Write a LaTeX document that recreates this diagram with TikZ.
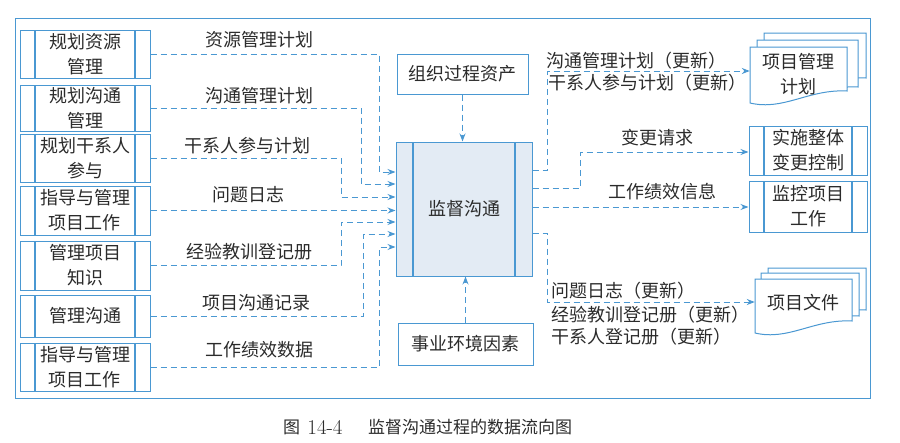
\documentclass[tikz,border=0pt]{standalone}
\usepackage{fontspec}
\newfontfamily\cjk{Noto Sans CJK SC}
\usetikzlibrary{arrows.meta,calc}
\definecolor{ln}{HTML}{4A98D2}
\definecolor{tx}{HTML}{2B2B2B}
\definecolor{cf}{HTML}{E3EBF4}
\tikzset{
  box/.style={draw=ln, line width=1pt, fill=white, inner sep=0pt, align=center,
    font=\cjk\fontsize{18}{25}\selectfont, text=tx},
  proc/.style={box, path picture={
    \draw[ln, line width=1.2pt]
      ([xshift=#1]path picture bounding box.north west) -- ([xshift=#1]path picture bounding box.south west)
      ([xshift=-#1]path picture bounding box.north east) -- ([xshift=-#1]path picture bounding box.south east);}},
  proc/.default=15pt,
  flow/.style={draw=ln, line width=1pt, dash pattern=on 6pt off 4pt,
    -{Stealth[length=8pt,width=6pt]}},
  lbl/.style={font=\cjk\fontsize{18}{25}\selectfont, text=tx, inner sep=0pt},
  doc/.style={draw=ln, line width=1pt, fill=white},
}
\newcommand\docpath[4]{%
  \path[doc] (#1,#2) -- ({#1+#3},#2) -- ({#1+#3},{#2+#4-12})
    .. controls ({#1+0.6*#3},{#2+#4-14}) and ({#1+0.35*#3},{#2+#4+8}) .. (#1,{#2+#4}) -- cycle;}
\begin{document}
\begin{tikzpicture}[x=1pt,y=-1pt]
\useasboundingbox (0,0) rectangle (900,442);
% outer frame
\draw[ln, line width=0.9pt] (15,18) rectangle (870,398);

% left process boxes
\node[proc, minimum width=130pt, minimum height=48pt] (b1) at (85,54) {规划资源\\管理};
\node[proc, minimum width=130pt, minimum height=46pt] (b2) at (85,108) {规划沟通\\管理};
\node[proc, minimum width=130pt, minimum height=48pt] (b3) at (85,158) {规划干系人\\参与};
\node[proc, minimum width=130pt, minimum height=49pt] (b4) at (85,210.5) {指导与管理\\项目工作};
\node[proc, minimum width=130pt, minimum height=49pt] (b5) at (85,265.5) {管理项目\\知识};
\node[proc, minimum width=130pt, minimum height=42pt] (b6) at (85,316) {管理沟通};
\node[proc, minimum width=130pt, minimum height=48pt] (b7) at (85,367) {指导与管理\\项目工作};

% centre
\node[proc=17pt, fill=cf, minimum width=136pt, minimum height=134pt] (ctr) at (464,209) {监督沟通};
\node[box, minimum width=131pt, minimum height=40pt] (opa) at (462.5,74) {组织过程资产};
\node[box, minimum width=135pt, minimum height=42pt] (eef) at (465.5,344) {事业环境因素};

% right process boxes
\node[proc, minimum width=118pt, minimum height=49pt] (sz) at (808,150.5) {实施整体\\变更控制};
\node[proc, minimum width=118pt, minimum height=51pt] (jk) at (808,206.5) {监控项目\\工作};

% document stacks
\docpath{764}{33}{102}{57}
\docpath{757}{40}{101}{59}
\docpath{750}{47}{97}{56}
\node[lbl, align=center, minimum width=97pt, minimum height=56pt] (pmp) at (798.5,74) {项目管理\\计划};

\docpath{768}{268}{98}{54}
\docpath{761}{273}{98}{55}
\docpath{755}{279}{97}{54}
\node[lbl, minimum width=97pt, minimum height=54pt] (xmwj) at (803.5,303) {项目文件};

% left connectors
\draw[flow] (b1.east) -| (379,172) -- (ctr.west |- 0,172);
\draw[flow] (b2.east) -| (361,184) -- (ctr.west |- 0,184);
\draw[flow] (b3.east) -| (341,197) -- (ctr.west |- 0,197);
\draw[flow] (b4.east) -- (ctr.west |- b4.east);
\draw[flow] (b5.east) -| (341,222) -- (ctr.west |- 0,222);
\draw[flow] (b6.east) -| (363,234) -- (ctr.west |- 0,234);
\draw[flow] (b7.east) -| (379,247) -- (ctr.west |- 0,247);

\node[lbl] (l1) at (259,40) {资源管理计划};
\node[lbl] (l2) at (259,96) {沟通管理计划};
\node[lbl] (l3) at (247,146) {干系人参与计划};
\node[lbl] (l4) at (248,195) {问题日志};
\node[lbl] (l5) at (249,252) {经验教训登记册};
\node[lbl] (l6) at (256,303) {项目沟通记录};
\node[lbl] (l7) at (259,350) {工作绩效数据};

% vertical inputs
\draw[flow] (opa.south) -- (opa.south |- ctr.north);
\draw[flow] (eef.north) -- (eef.north |- ctr.south);

% right connectors
\draw[flow] (ctr.east |- 0,170) -| (547,71) -- (pmp.west |- 0,71);
\draw[flow] (ctr.east |- 0,188) -| (580,152) -- (sz.west |- 0,152);
\draw[flow] (ctr.east |- 0,207) -- (jk.west |- 0,207);
\draw[flow] (ctr.east |- 0,233) -| (547,302) -- (xmwj.west |- 0,302);

\node[lbl, anchor=west] (r1) at (546,61) {沟通管理计划（更新）};
\node[lbl, anchor=west] (r2) at (548,83) {干系人参与计划（更新）};
\node[lbl] (r3) at (657,138) {变更请求};
\node[lbl] (r4) at (662,192) {工作绩效信息};
\node[lbl, anchor=west] (r5) at (551,291) {问题日志（更新）};
\node[lbl, anchor=west] (r6) at (551,315) {经验教训登记册（更新）};
\node[lbl, anchor=west] (r7) at (551,337) {干系人登记册（更新）};

% caption
\node[lbl, anchor=west, font=\cjk\fontsize{17}{20}\selectfont] (c1) at (283,427) {图};
\node[lbl, text=tx, font=\rmfamily\fontsize{21}{20}\selectfont] (c2) at (325,427.5) {14-4};
\node[lbl, anchor=west, font=\cjk\fontsize{17}{20}\selectfont] (c3) at (368,427) {监督沟通过程的数据流向图};
\end{tikzpicture}
\end{document}
